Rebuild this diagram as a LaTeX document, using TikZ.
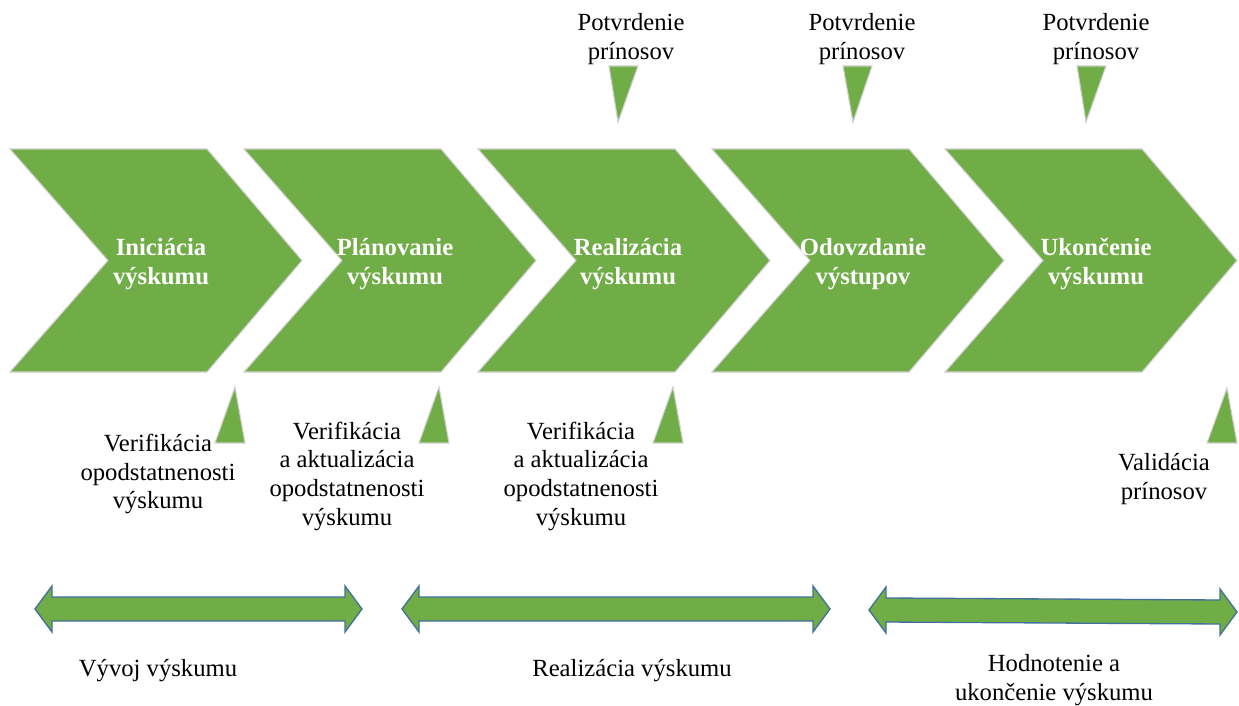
\documentclass[tikz,border=0pt]{standalone}
\usepackage{fontspec}
\setmainfont{Liberation Serif}
\definecolor{leaf}{HTML}{70AD47}
\definecolor{edgegray}{HTML}{D0D0D0}
\definecolor{arrowblue}{HTML}{41719C}
% two-headed block arrow from (#1,#2) to (#3,#4)
\newcommand\twowayarrow[4]{%
  \draw[dbl] (#1,#2) -- (#1+17,#2-23) -- (#1+17,#2-12) -- (#3-17,#4-12)
    -- (#3-17,#4-23) -- (#3,#4) -- (#3-17,#4+23) -- (#3-17,#4+12)
    -- (#1+17,#2+12) -- (#1+17,#2+23) -- cycle;}
\begin{document}
\begin{tikzpicture}[x=0.75pt,y=-0.75pt,
  chev/.style={fill=leaf, draw=edgegray, line width=0.8pt, line join=miter},
  tri/.style={fill=leaf, draw=edgegray, line width=0.8pt},
  dbl/.style={fill=leaf, draw=arrowblue, line width=1pt},
  steplabel/.style={text=white, font=\fontsize{18.5}{22}\selectfont\bfseries, align=center, inner sep=0pt},
  note/.style={font=\fontsize{18.5}{21.5}\selectfont, align=center, inner sep=0pt}]

\useasboundingbox (0,0) rectangle (1239,706);

% chevrons of the five phases
\foreach \x in {10,244,478,712,945} {
  \draw[chev] (\x,149) -- ++(197,0) -- ++(95,111.5) -- ++(-95,111.5)
    -- ++(-197,0) -- ++(98,-111.5) -- cycle;
}
\node[steplabel] (p1) at (161,264) {Iniciácia\\výskumu};
\node[steplabel] (p2) at (395,264) {Plánovanie\\výskumu};
\node[steplabel] (p3) at (628,264) {Realizácia\\výskumu};
\node[steplabel] (p4) at (863,264) {Odovzdanie\\výstupov};
\node[steplabel] (p5) at (1096,264) {Ukončenie\\výskumu};

% downward markers above the chevrons
\draw[tri] (609,66) -- (638,66) -- (618,122) -- cycle;
\draw[tri] (843,66) -- (872,66) -- (853,122) -- cycle;
\draw[tri] (1077,66) -- (1106,66) -- (1086,122) -- cycle;
\node[note] (t1) at (631,39) {Potvrdenie\\prínosov};
\node[note] (t2) at (862,39) {Potvrdenie\\prínosov};
\node[note] (t3) at (1096,39) {Potvrdenie\\prínosov};

% upward markers below the chevrons
\draw[tri] (215,443) -- (245,443) -- (235,387) -- cycle;
\draw[tri] (419,443) -- (449,443) -- (439,387) -- cycle;
\draw[tri] (653,443) -- (683,443) -- (673,387) -- cycle;
\draw[tri] (1207,443) -- (1237,443) -- (1227,388) -- cycle;
\node[note] (b1) at (158,474) {Verifikácia\\opodstatnenosti\\výskumu};
\node[note] (b2) at (347,476) {Verifikácia\\a aktualizácia\\opodstatnenosti\\výskumu};
\node[note] (b3) at (581,476) {Verifikácia\\a aktualizácia\\opodstatnenosti\\výskumu};
\node[note] (b4) at (1164,479) {Validácia\\prínosov};

% stage spans
\twowayarrow{35}{609}{362}{609}
\twowayarrow{402}{609}{830}{609}
\twowayarrow{869}{610}{1237}{612}
\node[note] (s1) at (158,671) {Vývoj výskumu};
\node[note] (s2) at (632,671) {Realizácia výskumu};
\node[note] (s3) at (1054,680) {Hodnotenie a\\ukončenie výskumu};
\end{tikzpicture}
\end{document}
